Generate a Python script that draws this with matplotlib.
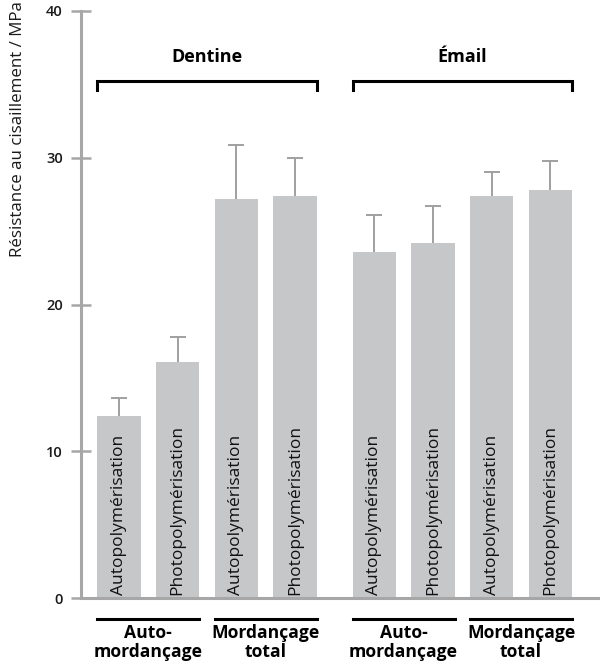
import matplotlib
matplotlib.use("Agg")
import matplotlib.pyplot as plt
import matplotlib.transforms as mtransforms
import numpy as np

plt.rcParams['font.family'] = ['Open Sans', 'DejaVu Sans']

# Data
groups = ["Dentine", "Émail"]
subgroups = ["Auto-\nmordançage", "Mordançage\ntotal"]
bar_labels = ["Autopolymérisation", "Photopolymérisation"] * 4
values = [12.4, 16.1, 27.2, 27.4, 23.6, 24.2, 27.4, 27.8]
errors = [1.2, 1.7, 3.7, 2.6, 2.5, 2.5, 1.6, 2.0]
yticks = [0, 10, 20, 30, 40]
ylabel = "Résistance au cisaillement / MPa"

bar_color = "#c6c7c9"
axis_color = "#a7a7a7"
err_color = "#a0a0a0"

# positions
gap = 1.346
x = np.array([0, 1, 2, 3, 3 + gap, 4 + gap, 5 + gap, 6 + gap])
width = 0.74

fig = plt.figure(figsize=(6, 6.7), dpi=100)
ax = fig.add_axes([81 / 600, 72 / 670, 519 / 600, 587 / 670])

ax.bar(x, values, width=width, color=bar_color, zorder=2)
eb = ax.errorbar(x, values, yerr=[np.zeros(len(errors)), errors], fmt='none',
                 ecolor=err_color, elinewidth=1.4, capsize=6, capthick=1.4, zorder=1)
caps = eb.lines[1]
if len(caps) >= 2:
    caps[0].set_visible(False)

ax.set_xlim(x[0] - 0.647, x[0] + 8.19)
ax.set_ylim(0, 40)
ax.set_yticks(yticks)
ax.set_xticks([])
for s in ["top", "right"]:
    ax.spines[s].set_visible(False)
for s in ["left", "bottom"]:
    ax.spines[s].set_color(axis_color)
    ax.spines[s].set_linewidth(2.2)
ax.tick_params(axis='y', direction='inout', length=14, width=1.8, color=axis_color,
               labelsize=10.5, pad=6, labelcolor="#1a1a1a")
for lbl in ax.get_yticklabels():
    lbl.set_fontweight('semibold')

fig.text(18 / 600, 0.998, ylabel, rotation=90, ha='center', va='top', fontsize=12.2,
         color="#1a1a1a")

# labels inside bars
for xi, lab in zip(x, bar_labels):
    ax.text(xi, 0.2, lab, rotation=90, ha='center', va='bottom', fontsize=12.5,
            color="#111111", zorder=3)

# group brackets (top)
y_br = 35.23
y_br_tick = 34.65
for g, name in enumerate(groups):
    x0 = x[4 * g] - width / 2
    x1 = x[4 * g + 3] + width / 2
    ax.plot([x0, x0, x1, x1], [y_br_tick, y_br, y_br, y_br_tick], color="black",
            lw=2.2, solid_joinstyle='miter', clip_on=False)
    ax.text((x0 + x1) / 2, 36.85, name, ha='center', va='center', fontsize=13,
            fontweight='bold', color="black")

# subgroup lines and labels (bottom)
trans = mtransforms.blended_transform_factory(ax.transData, ax.transAxes)
y_line = (598 - 619) / 587
y_text = (598 - 624) / 587
for k in range(4):
    x0 = x[2 * k] - width / 2
    x1 = x[2 * k + 1] + width / 2
    ax.plot([x0, x1], [y_line, y_line], color="black", lw=2.2, transform=trans,
            clip_on=False)
    ax.text((x0 + x1) / 2, y_text, subgroups[k % 2], ha='center', va='top',
            fontsize=12.6, fontweight='bold', transform=trans, linespacing=1.08,
            color="black")

fig.savefig("out.png", dpi=100)
